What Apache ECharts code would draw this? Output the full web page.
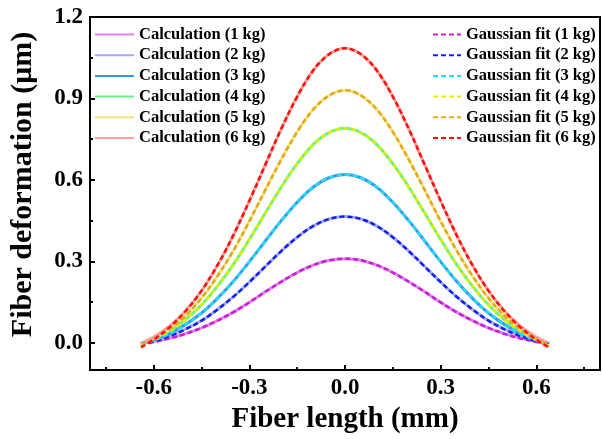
<!DOCTYPE html>
<html>
<head>
<meta charset="utf-8">
<script src="https://cdn.jsdelivr.net/npm/echarts@6/dist/echarts.min.js"></script>
<style>
  html, body { margin: 0; padding: 0; background: #fff; }
  #chart { width: 603px; height: 439px; }
</style>
</head>
<body>
<div id="chart"></div>
<script>
// fiber length (mm)
const xs = [-0.64, -0.6, -0.55, -0.5, -0.45, -0.4, -0.35, -0.3, -0.25, -0.2, -0.15, -0.1, -0.05, 0,
            0.05, 0.1, 0.15, 0.2, 0.25, 0.3, 0.35, 0.4, 0.45, 0.5, 0.55, 0.6, 0.64];

// calculated deformation (um)
const calc1 = [-0.001, 0.006, 0.018, 0.034, 0.055, 0.082, 0.113, 0.149, 0.188, 0.225, 0.259, 0.286, 0.304, 0.310,
               0.304, 0.286, 0.259, 0.225, 0.188, 0.149, 0.113, 0.082, 0.055, 0.034, 0.018, 0.006, -0.001];
const calc2 = [-0.001, 0.009, 0.027, 0.051, 0.082, 0.123, 0.170, 0.224, 0.281, 0.338, 0.389, 0.430, 0.456, 0.465,
               0.456, 0.430, 0.389, 0.338, 0.281, 0.224, 0.170, 0.123, 0.082, 0.051, 0.027, 0.009, -0.001];
const calc3 = [-0.001, 0.012, 0.035, 0.068, 0.110, 0.164, 0.227, 0.299, 0.375, 0.450, 0.518, 0.573, 0.608, 0.620,
               0.608, 0.573, 0.518, 0.450, 0.375, 0.299, 0.227, 0.164, 0.110, 0.068, 0.035, 0.012, -0.001];
const calc4 = [-0.002, 0.015, 0.045, 0.086, 0.140, 0.209, 0.289, 0.381, 0.478, 0.574, 0.660, 0.730, 0.774, 0.790,
               0.774, 0.730, 0.660, 0.574, 0.478, 0.381, 0.289, 0.209, 0.140, 0.086, 0.045, 0.015, -0.002];
const calc5 = [-0.002, 0.018, 0.053, 0.101, 0.165, 0.246, 0.340, 0.448, 0.563, 0.675, 0.777, 0.859, 0.911, 0.930,
               0.911, 0.859, 0.777, 0.675, 0.563, 0.448, 0.340, 0.246, 0.165, 0.101, 0.053, 0.018, -0.002];
const calc6 = [-0.002, 0.021, 0.062, 0.118, 0.192, 0.286, 0.397, 0.523, 0.656, 0.788, 0.907, 1.003, 1.063, 1.085,
               1.063, 1.003, 0.907, 0.788, 0.656, 0.523, 0.397, 0.286, 0.192, 0.118, 0.062, 0.021, -0.002];

// gaussian fits (um)
const fit1 = [-0.006, 0.003, 0.016, 0.033, 0.055, 0.082, 0.113, 0.149, 0.188, 0.225, 0.259, 0.286, 0.304, 0.310,
              0.304, 0.286, 0.259, 0.225, 0.188, 0.149, 0.113, 0.082, 0.055, 0.033, 0.016, 0.003, -0.006];
const fit2 = [-0.006, 0.006, 0.025, 0.050, 0.082, 0.123, 0.170, 0.224, 0.281, 0.338, 0.389, 0.430, 0.456, 0.465,
              0.456, 0.430, 0.389, 0.338, 0.281, 0.224, 0.170, 0.123, 0.082, 0.050, 0.025, 0.006, -0.006];
const fit3 = [-0.007, 0.009, 0.033, 0.067, 0.110, 0.164, 0.227, 0.299, 0.375, 0.450, 0.518, 0.573, 0.608, 0.620,
              0.608, 0.573, 0.518, 0.450, 0.375, 0.299, 0.227, 0.164, 0.110, 0.067, 0.033, 0.009, -0.007];
const fit4 = [-0.009, 0.011, 0.043, 0.085, 0.140, 0.209, 0.289, 0.381, 0.478, 0.574, 0.660, 0.730, 0.774, 0.790,
              0.774, 0.730, 0.660, 0.574, 0.478, 0.381, 0.289, 0.209, 0.140, 0.085, 0.043, 0.011, -0.009];
const fit5 = [-0.011, 0.013, 0.050, 0.100, 0.165, 0.246, 0.340, 0.448, 0.563, 0.675, 0.777, 0.859, 0.911, 0.930,
              0.911, 0.859, 0.777, 0.675, 0.563, 0.448, 0.340, 0.246, 0.165, 0.100, 0.050, 0.013, -0.011];
const fit6 = [-0.017, 0.012, 0.058, 0.117, 0.192, 0.286, 0.397, 0.523, 0.656, 0.788, 0.907, 1.003, 1.063, 1.085,
              1.063, 1.003, 0.907, 0.788, 0.656, 0.523, 0.397, 0.286, 0.192, 0.117, 0.058, 0.012, -0.017];

const calcNames = ['Calculation (1 kg)', 'Calculation (2 kg)', 'Calculation (3 kg)',
                   'Calculation (4 kg)', 'Calculation (5 kg)', 'Calculation (6 kg)'];
const fitNames = ['Gaussian fit (1 kg)', 'Gaussian fit (2 kg)', 'Gaussian fit (3 kg)',
                  'Gaussian fit (4 kg)', 'Gaussian fit (5 kg)', 'Gaussian fit (6 kg)'];

const xMajor = [-0.6, -0.3, 0, 0.3, 0.6];
const xMinor = [-0.75, -0.45, -0.15, 0.15, 0.45, 0.75];
const yMajor = [0, 0.3, 0.6, 0.9, 1.2];
const yMinor = [0.15, 0.45, 0.75, 1.05];

const calcColors = ['#E680F0', '#A0A8F4', '#3D95F2', '#66F28A', '#F8E47A', '#F6A29A'];
const fitColors = ['#C81ED8', '#1020F0', '#20E0F0', '#DDF000', '#E0A820', '#FF1010'];

const FONT = '"Liberation Serif", "Times New Roman", serif';

const pairs = arr => xs.map((x, i) => [x, arr[i]]);

const series = [];
[calc1, calc2, calc3, calc4, calc5, calc6].forEach((arr, i) => {
    series.push({
        name: calcNames[i], type: 'line', smooth: 0.35, symbol: 'none',
        lineStyle: { color: calcColors[i], width: 3 },
        itemStyle: { color: calcColors[i] },
        data: pairs(arr)
    });
});
[fit1, fit2, fit3, fit4, fit5, fit6].forEach((arr, i) => {
    series.push({
        name: fitNames[i], type: 'line', smooth: 0.35, symbol: 'none',
        lineStyle: { color: fitColors[i], width: 2.5, type: [5, 3] },
        itemStyle: { color: fitColors[i] },
        data: pairs(arr)
    });
});

const legendText = { fontFamily: FONT, fontWeight: 'bold', fontSize: 16.5, color: '#000', lineHeight: 17 };
const tickLine = { color: '#000', width: 2 };
const tickFont = { fontFamily: FONT, fontWeight: 'bold', fontSize: 23, color: '#000' };

const chart = echarts.init(document.getElementById('chart'));
chart.setOption({
    animation: false,
    grid: { left: 88, right: 3, top: 17, bottom: 68, show: true, borderColor: '#000', borderWidth: 2 },
    legend: [
        { data: calcNames, orient: 'vertical', left: 94, top: 26, padding: 0, itemGap: 3.7,
          itemWidth: 39, itemHeight: 12, itemStyle: { opacity: 0 }, textStyle: legendText },
        { data: fitNames, orient: 'vertical', left: 432, top: 26, padding: 0, itemGap: 3.7,
          itemWidth: 28, itemHeight: 12, itemStyle: { opacity: 0 }, textStyle: legendText }
    ],
    xAxis: [
        {
            type: 'value', min: -0.8, max: 0.8, position: 'bottom',
            name: 'Fiber length (mm)', nameLocation: 'middle', nameGap: 35,
            nameTextStyle: { fontFamily: FONT, fontWeight: 'bold', fontSize: 29, color: '#000' },
            axisLine: { onZero: false, lineStyle: { color: '#000', width: 2 } },
            axisTick: { inside: true, length: 5, customValues: xMajor, lineStyle: tickLine },
            axisLabel: Object.assign({ customValues: xMajor, margin: 7, formatter: v => v.toFixed(1) }, tickFont),
            splitLine: { show: false }
        },
        {
            type: 'value', min: -0.8, max: 0.8, position: 'bottom',
            axisLine: { show: false, onZero: false },
            axisTick: { inside: true, length: 3, customValues: xMinor, lineStyle: tickLine },
            axisLabel: { show: false },
            splitLine: { show: false }
        }
    ],
    yAxis: [
        {
            type: 'value', min: -0.1, max: 1.2, position: 'left',
            name: 'Fiber deformation (μm)', nameLocation: 'middle', nameGap: 52,
            nameTextStyle: { fontFamily: FONT, fontWeight: 'bold', fontSize: 30, color: '#000', padding: [0, 0, 0, 18] },
            axisLine: { show: true, onZero: false, lineStyle: { color: '#000', width: 2 } },
            axisTick: { show: true, inside: true, length: 5, customValues: yMajor, lineStyle: tickLine },
            axisLabel: Object.assign({ customValues: yMajor, margin: 7, formatter: v => v.toFixed(1) }, tickFont),
            splitLine: { show: false }
        },
        {
            type: 'value', min: -0.1, max: 1.2, position: 'left',
            axisLine: { show: false, onZero: false },
            axisTick: { show: true, inside: true, length: 3, customValues: yMinor, lineStyle: tickLine },
            axisLabel: { show: false },
            splitLine: { show: false }
        }
    ],
    series: series
});
</script>
</body>
</html>
